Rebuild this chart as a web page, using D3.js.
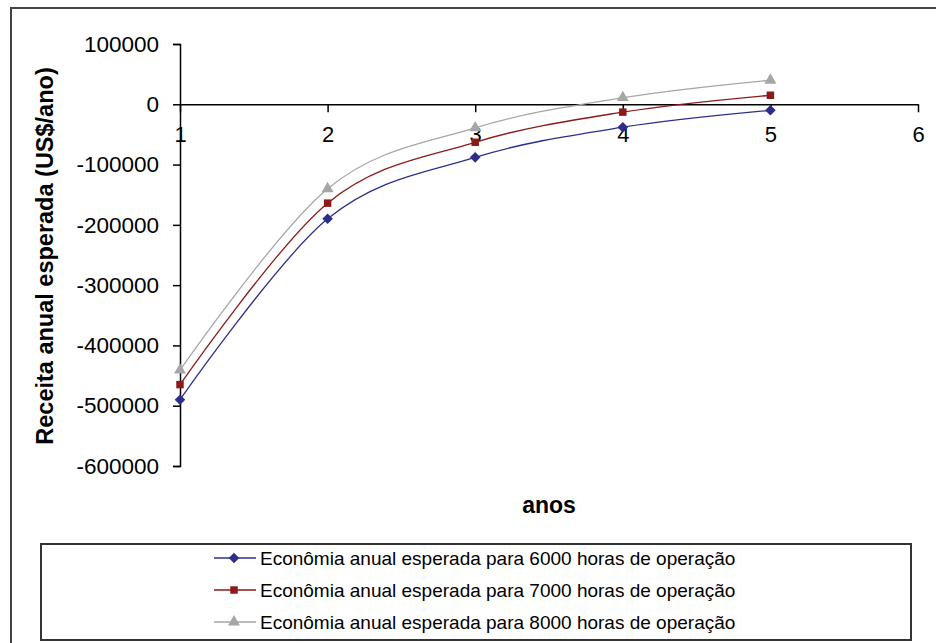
<!DOCTYPE html>
<html>
<head>
<meta charset="utf-8">
<script src="https://cdn.jsdelivr.net/npm/d3@7"></script>
<style>
  body { margin: 0; background: #fff; }
  svg { display: block; font-family: "Liberation Sans", Arial, sans-serif; }
</style>
</head>
<body>
<div id="chart"></div>
<script>
  // anos
  var years = [1, 2, 3, 4, 5];
  var xTicks = [1, 2, 3, 4, 5, 6];
  var yTicks = [100000, 0, -100000, -200000, -300000, -400000, -500000, -600000];

  var serie6000 = [-490000, -190000, -88000, -38000, -10000];
  var serie7000 = [-465000, -164000, -63000, -13000, 15000];
  var serie8000 = [-441000, -140000, -39000, 11000, 40000];

  var seriesNames = [
    "Econômia anual esperada para 6000 horas de operação",
    "Econômia anual esperada para 7000 horas de operação",
    "Econômia anual esperada para 8000 horas de operação"
  ];
  var colors = ["#2e2e8a", "#8b1a1a", "#a6a6a6"];

  // square diamond like the excel marker
  var squareDiamond = {
    draw: function (context, size) {
      var r = Math.sqrt(size / 2);
      context.moveTo(0, -r);
      context.lineTo(r, 0);
      context.lineTo(0, r);
      context.lineTo(-r, 0);
      context.closePath();
    }
  };
  var symbols = [squareDiamond, d3.symbolSquare, d3.symbolTriangle];
  var symbolSizes = [56, 56, 62];

  var dataset = [serie6000, serie7000, serie8000].map(function (values, i) {
    return values.map(function (v, j) {
      return { year: years[j], value: v, serie: i };
    });
  });

  var width = 936, height = 643;

  var svg = d3.select("#chart")
    .append("svg")
    .attr("width", width)
    .attr("height", height);

  // outer frame
  svg.append("rect")
    .attr("x", 11)
    .attr("y", 8)
    .attr("width", 960)
    .attr("height", 700)
    .attr("fill", "none")
    .attr("stroke", "#444")
    .attr("stroke-width", 2);

  var x = d3.scaleLinear().domain([1, 6]).range([180, 918]);
  var y = d3.scaleLinear().domain([-600000, 100000]).range([466, 44]);

  var yAxis = d3.axisLeft(y)
    .tickValues(yTicks)
    .tickSize(7)
    .tickPadding(14)
    .tickFormat(function (d) { return d; });

  var yg = svg.append("g")
    .attr("class", "y axis")
    .attr("transform", "translate(" + x(1) + ",0)")
    .call(yAxis);
  yg.select(".domain").attr("stroke", "#000").attr("stroke-width", 1.5);
  yg.selectAll(".tick line").attr("stroke", "#000").attr("stroke-width", 1.5);
  yg.selectAll("text")
    .attr("fill", "#000")
    .style("font-size", "22.5px");

  var xAxis = d3.axisBottom(x)
    .tickValues(xTicks)
    .tickSize(8)
    .tickSizeOuter(0)
    .tickPadding(14)
    .tickFormat(function (d) { return d; });

  var xg = svg.append("g")
    .attr("class", "x axis")
    .attr("transform", "translate(0," + y(0) + ")")
    .call(xAxis);
  xg.select(".domain").attr("stroke", "#000").attr("stroke-width", 1.5);
  xg.selectAll(".tick line").attr("stroke", "#000").attr("stroke-width", 1.5);
  xg.selectAll("text")
    .attr("fill", "#000")
    .style("font-size", "22px");

  var line = d3.line()
    .curve(d3.curveCardinal.tension(0))
    .x(function (d) { return x(d.year); })
    .y(function (d) { return y(d.value); });

  var groups = svg.selectAll("g.serie")
    .data(dataset)
    .enter().append("g")
    .attr("class", "serie");

  groups.append("path")
    .attr("d", line)
    .attr("fill", "none")
    .attr("stroke", function (d, i) { return colors[i]; })
    .attr("stroke-width", 1.3);

  groups.selectAll("path.marker")
    .data(function (d) { return d; })
    .enter()
    .append("path")
    .attr("class", "marker")
    .attr("transform", function (d) {
      return "translate(" + x(d.year) + "," + y(d.value) + ")";
    })
    .attr("d", function (d) {
      return d3.symbol().type(symbols[d.serie]).size(symbolSizes[d.serie])();
    })
    .attr("fill", function (d) { return colors[d.serie]; });

  // axis titles
  svg.append("text")
    .attr("transform", "translate(53,256) rotate(-90)")
    .attr("text-anchor", "middle")
    .style("font-size", "23.5px")
    .style("font-weight", "bold")
    .text("Receita anual esperada (US$/ano)");

  svg.append("text")
    .attr("x", 549)
    .attr("y", 513)
    .attr("text-anchor", "middle")
    .style("font-size", "23px")
    .style("font-weight", "bold")
    .text("anos");

  // legend
  svg.append("rect")
    .attr("x", 41)
    .attr("y", 544)
    .attr("width", 870)
    .attr("height", 96)
    .attr("fill", "#fff")
    .attr("stroke", "#333")
    .attr("stroke-width", 2);

  var legend = svg.selectAll(".legend")
    .data(seriesNames)
    .enter().append("g")
    .attr("class", "legend")
    .attr("transform", function (d, i) {
      return "translate(0," + (558 + i * 32) + ")";
    });

  legend.append("line")
    .attr("x1", 214)
    .attr("x2", 256)
    .attr("stroke", function (d, i) { return colors[i]; })
    .attr("stroke-width", 1.5);

  legend.append("path")
    .attr("transform", "translate(234,0)")
    .attr("d", function (d, i) {
      return d3.symbol().type(symbols[i]).size(symbolSizes[i])();
    })
    .attr("fill", function (d, i) { return colors[i]; });

  legend.append("text")
    .attr("x", 260)
    .attr("dy", "0.36em")
    .style("font-size", "19px")
    .style("text-anchor", "start")
    .text(function (d) { return d; });
</script>
</body>
</html>
